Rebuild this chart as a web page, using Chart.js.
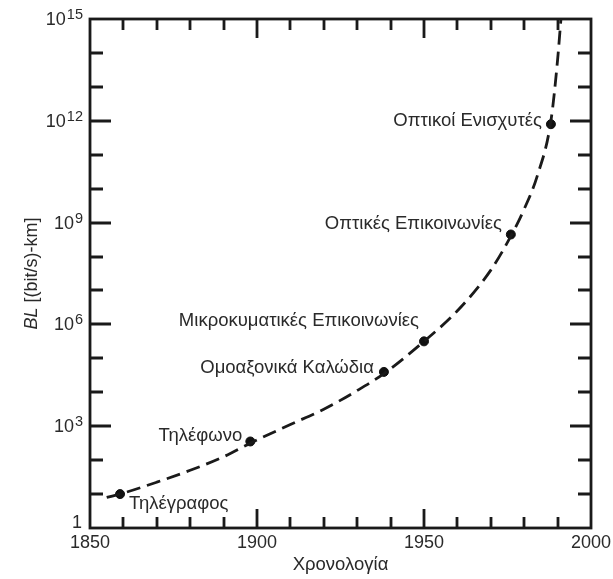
<!DOCTYPE html>
<html>
<head>
<meta charset="utf-8">
<script src="https://cdn.jsdelivr.net/npm/chart.js@4/dist/chart.umd.min.js"></script>
<style>
  body { margin: 0; background: #fff; }
</style>
</head>
<body>
<canvas id="myChart" width="613" height="579"></canvas>
<script>
const ctx = document.getElementById("myChart");

// dashed trend line (year, log10 of BL)
const curveYears = [1855, 1860, 1870, 1880, 1890, 1898, 1910, 1920, 1930, 1938, 1950, 1960, 1970, 1976, 1980, 1984, 1988, 1990, 1991];
const curveExp = [0.9, 1.03, 1.35, 1.7, 2.1, 2.5, 3.05, 3.5, 4.05, 4.55, 5.5, 6.4, 7.6, 8.6, 9.4, 10.4, 12.0, 13.8, 15];

// milestones
const milestoneNames = [
  "Τηλέγραφος",
  "Τηλέφωνο",
  "Ομοαξονικά Καλώδια",
  "Μικροκυματικές Επικοινωνίες",
  "Οπτικές Επικοινωνίες",
  "Οπτικοί Ενισχυτές",
];
const milestoneYears = [1859, 1898, 1938, 1950, 1976, 1988];
const milestoneExp = [1.0, 2.55, 4.6, 5.5, 8.65, 11.9];

// axes
const xTickYears = [1850, 1860, 1870, 1880, 1890, 1900, 1910, 1920, 1930, 1940, 1950, 1960, 1970, 1980, 1990, 2000];
const xTickLabels = ["1850", "1900", "1950", "2000"];
const yTickExps = [0, 1, 2, 3, 4, 5, 6, 7, 8, 9, 10, 11, 12, 13, 14, 15];
const yLabelExps = [0, 3, 6, 9, 12, 15];

const FONT = "'Liberation Sans', Arial, sans-serif";

// label placement relative to each point
const labelPlace = [
  { dx: 9, dy: 10, align: "left" },
  { dx: -8, dy: -6, align: "right" },
  { dx: -10, dy: -4, align: "right" },
  { dx: -5, dy: -20, align: "right" },
  { dx: -9, dy: -11, align: "right" },
  { dx: -9, dy: -3, align: "right" },
];

const frame = {
  id: "frame",
  beforeDatasetsDraw(chart) {
    const c = chart.ctx;
    const a = chart.chartArea;
    const xs = chart.scales.x;
    const ys = chart.scales.y;
    c.save();
    c.strokeStyle = "#1a1a1a";
    c.lineWidth = 2.8;
    c.strokeRect(a.left, a.top, a.right - a.left, a.bottom - a.top);
    c.beginPath();
    xTickYears.forEach((yr) => {
      if (yr === 1850 || yr === 2000) return;
      const px = Math.round(xs.getPixelForValue(yr));
      const len = yr % 50 === 0 ? 19 : 11;
      c.moveTo(px, a.bottom);
      c.lineTo(px, a.bottom - len);
      c.moveTo(px, a.top);
      c.lineTo(px, a.top + len);
    });
    yTickExps.forEach((e) => {
      if (e === 0 || e === 15) return;
      const py = Math.round(ys.getPixelForValue(Math.pow(10, e)));
      const len = e % 3 === 0 ? 21 : 13;
      c.moveTo(a.left, py);
      c.lineTo(a.left + len, py);
      c.moveTo(a.right, py);
      c.lineTo(a.right - len, py);
    });
    c.stroke();

    // tick labels
    c.fillStyle = "#2a2a2a";
    c.textBaseline = "middle";
    c.font = "18px " + FONT;
    c.textAlign = "center";
    xTickLabels.forEach((t) => {
      c.fillText(t, xs.getPixelForValue(Number(t)), a.bottom + 15);
    });
    yLabelExps.forEach((e) => {
      const py = ys.getPixelForValue(Math.pow(10, e));
      const right = a.left - 7;
      c.textAlign = "right";
      if (e === 0) {
        c.font = "18px " + FONT;
        c.fillText("1", right - 1, py - 5);
        return;
      }
      c.font = "14.5px " + FONT;
      const sup = String(e);
      const w = c.measureText(sup).width;
      c.fillText(sup, right, py - 4);
      c.font = "18px " + FONT;
      c.fillText("10", right - w - 1, py + 1);
    });

    // axis titles
    c.textAlign = "center";
    c.font = "18.5px " + FONT;
    c.fillText("Χρονολογία", (a.left + a.right) / 2, a.bottom + 37);

    c.save();
    c.translate(32, (a.top + a.bottom) / 2);
    c.rotate(-Math.PI / 2);
    c.font = "italic 18px " + FONT;
    const t1 = "BL ";
    const w1 = c.measureText(t1).width;
    c.font = "18px " + FONT;
    const t2 = "[(bit/s)-km]";
    const w2 = c.measureText(t2).width;
    const start = -(w1 + w2) / 2;
    c.textAlign = "left";
    c.font = "italic 18px " + FONT;
    c.fillText(t1, start, 0);
    c.font = "18px " + FONT;
    c.fillText(t2, start + w1, 0);
    c.restore();
    c.restore();
  },
  afterDatasetsDraw(chart) {
    const c = chart.ctx;
    const meta = chart.getDatasetMeta(1);
    c.save();
    c.fillStyle = "#2a2a2a";
    c.font = "18.5px " + FONT;
    c.textBaseline = "middle";
    meta.data.forEach((pt, i) => {
      const p = labelPlace[i];
      c.textAlign = p.align;
      c.fillText(milestoneNames[i], pt.x + p.dx, pt.y + p.dy);
    });
    c.restore();
  },
};

new Chart(ctx, {
  type: "scatter",
  data: {
    datasets: [
      {
        label: "trend",
        data: curveYears.map((yr, i) => ({ x: yr, y: Math.pow(10, curveExp[i]) })),
        showLine: true,
        borderColor: "#1a1a1a",
        borderWidth: 2.8,
        borderDash: [14, 7],
        pointRadius: 0,
        cubicInterpolationMode: "monotone",
      },
      {
        label: "milestones",
        data: milestoneYears.map((yr, i) => ({ x: yr, y: Math.pow(10, milestoneExp[i]) })),
        backgroundColor: "#111",
        borderColor: "#111",
        pointRadius: 4.5,
      },
    ],
  },
  options: {
    responsive: false,
    animation: false,
    devicePixelRatio: 1,
    layout: { padding: { left: 90, top: 19, right: 22, bottom: 51 } },
    plugins: { legend: { display: false }, tooltip: { enabled: false } },
    scales: {
      x: { type: "linear", min: 1850, max: 2000, display: false },
      y: { type: "logarithmic", min: 1, max: 1e15, display: false },
    },
  },
  plugins: [frame],
});
</script>
</body>
</html>
